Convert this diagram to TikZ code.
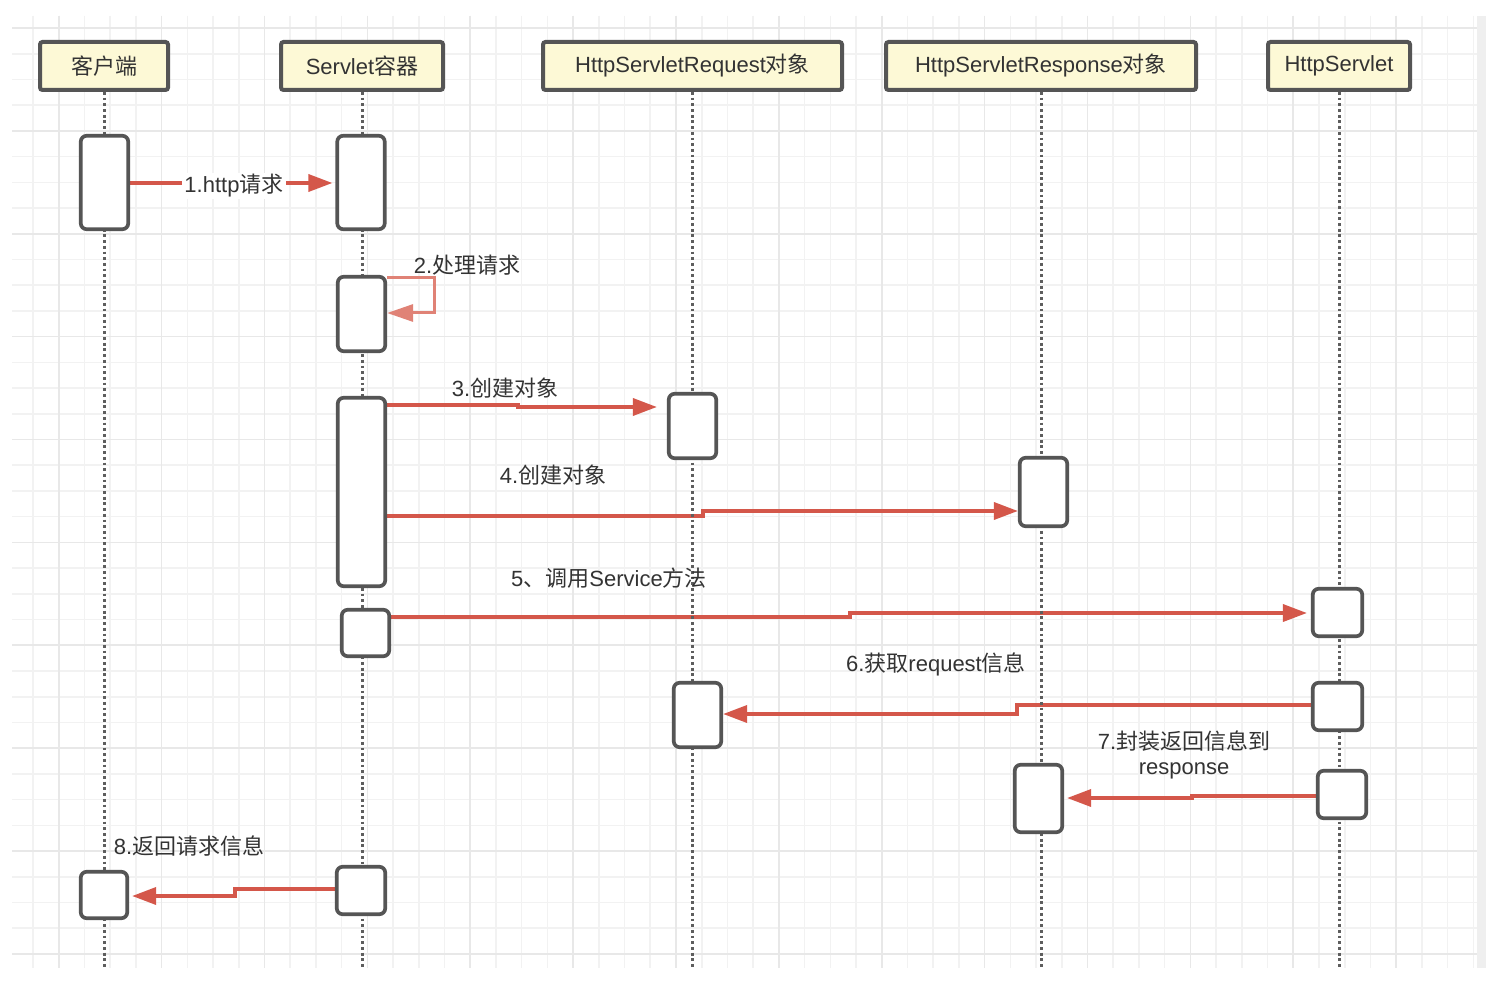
\documentclass[tikz,border=0pt]{standalone}
\usepackage{fontspec}
\setmainfont{Liberation Sans}
\newfontfamily\cjk{Noto Sans CJK SC}
\usetikzlibrary{arrows.meta}
\definecolor{gridminor}{HTML}{F2F2F2}
\definecolor{gridmajor}{HTML}{E8E8E8}
\definecolor{bandcol}{HTML}{EFEFEF}
\definecolor{boxline}{HTML}{555555}
\definecolor{headfill}{HTML}{FDF9D6}
\definecolor{msgred}{HTML}{D4574A}
\definecolor{loopred}{HTML}{E08276}
\definecolor{txt}{HTML}{333333}
\definecolor{dotcol}{HTML}{5E5E5E}
\pgfdeclarelayer{gridlayer}
\pgfdeclarelayer{arrowlayer}
\pgfdeclarelayer{lifelayer}
\pgfsetlayers{gridlayer,arrowlayer,lifelayer,main}
\tikzset{
  head/.style={draw=boxline, line width=4pt, fill=headfill, rounded corners=2.5pt,
    minimum height=48pt, inner sep=0pt, text=txt},
  act/.style={draw=boxline, line width=3.7pt, fill=white, rounded corners=6pt,
    minimum width=47.5pt, inner sep=0pt},
  life/.style={draw=dotcol, line width=3pt, dash pattern=on 2.8pt off 2.9pt},
  msg/.style={draw=msgred, line width=3.5pt, -{Triangle[length=24pt,width=17pt]}},
  loopmsg/.style={draw=loopred, line width=3pt, -{Triangle[length=26pt,width=17pt]}},
  lbl/.style={inner sep=1pt, text=txt},
  minorline/.style={draw=gridminor, line width=1.6pt},
  majorline/.style={draw=gridmajor, line width=1.6pt}
}
\begin{document}
\begin{tikzpicture}[x=1pt,y=-1pt, font=\fontsize{22}{25}\selectfont]
\useasboundingbox (0,0) rectangle (1502,1000);

% grid background
\begin{pgfonlayer}{gridlayer}
\fill[white] (0,0) rectangle (1502,1000);
\fill[bandcol] (1477,16) rectangle (1486,968);
\foreach \k in {0,...,56}{
  \pgfmathsetmacro\xx{33+25.72*\k}
  \draw[minorline] (\xx,16) -- (\xx,968);
}
\foreach \k in {0,...,36}{
  \pgfmathsetmacro\yy{28+25.72*\k}
  \draw[minorline] (12,\yy) -- (1477,\yy);
}
\foreach \k in {1,5,...,53}{
  \pgfmathsetmacro\xx{33+25.72*\k}
  \draw[majorline] (\xx,16) -- (\xx,968);
}
\foreach \k in {0,4,...,36}{
  \pgfmathsetmacro\yy{28+25.72*\k}
  \draw[majorline] (12,\yy) -- (1477,\yy);
}
\end{pgfonlayer}

% headers
\node[head, minimum width=128pt] (hC) at (104,66) {{\cjk 客户端}};
\node[head, minimum width=162pt] (hS) at (362,66) {Servlet{\cjk 容器}};
\node[head, minimum width=299pt] (hQ) at (692.5,66) {HttpServletRequest{\cjk 对象}};
\node[head, minimum width=310pt] (hP) at (1041,66) {HttpServletResponse{\cjk 对象}};
\node[head, minimum width=142pt] (hH) at (1339,66) {HttpServlet};

% lifelines
\begin{pgfonlayer}{lifelayer}
\draw[life] (hC.south) -- (hC.south |- 0,968);
\draw[life] (hS.south) -- (hS.south |- 0,968);
\draw[life] (hQ.south) -- (hQ.south |- 0,968);
\draw[life] (hP.south) -- (hP.south |- 0,968);
\draw[life] (hH.south) -- (hH.south |- 0,968);
\end{pgfonlayer}

% activation boxes
\node[act, minimum height=93.5pt] (A1) at (104.5,182.5) {};
\node[act, minimum height=93.5pt] (S1) at (361,182.5) {};
\node[act, minimum height=74.5pt] (S2) at (361.5,314) {};
\node[act, minimum height=188.5pt] (S3) at (361.5,492) {};
\node[act, minimum height=64.5pt] (R1) at (692.5,426) {};
\node[act, minimum height=68.5pt] (P1) at (1043.5,492) {};
\node[act, minimum height=46.5pt] (S4) at (365.5,633) {};
\node[act, minimum height=47.5pt, minimum width=49.5pt] (H1) at (1337.5,612.5) {};
\node[act, minimum height=47.5pt, minimum width=49.5pt] (H2) at (1337.5,706.5) {};
\node[act, minimum height=64.5pt] (R2) at (697.5,715) {};
\node[act, minimum height=47.5pt, minimum width=48.5pt] (H3) at (1342,794.5) {};
\node[act, minimum height=67.5pt] (P2) at (1038.5,798.5) {};
\node[act, minimum height=46.5pt, minimum width=46.5pt] (C2) at (104,895) {};
\node[act, minimum height=47.5pt, minimum width=48.5pt] (S5) at (361,890.5) {};

% messages
\begin{pgfonlayer}{arrowlayer}
\draw[msg, shorten >=3pt] (A1.east |- 0,183) -- (S1.west |- 0,183);
\draw[loopmsg] (S2.east |- 0,278) -- (434,278) -- (434,313) -- (S2.east |- 0,313);
\draw[msg, shorten >=10pt] (S3.east |- 0,405) -- (518,405) -- (518,407) -- (R1.west |- 0,407);
\draw[msg] (S3.east |- 0,516) -- (703,516) -- (703,511) -- (P1.west |- 0,511);
\draw[msg, shorten >=4pt] (S4.east |- 0,617) -- (850,617) -- (850,613) -- (H1.west |- 0,613);
\draw[msg] (H2.west |- 0,705) -- (1017,705) -- (1017,714) -- (R2.east |- 0,714);
\draw[msg, shorten >=3pt] (H3.west |- 0,796) -- (1192,796) -- (1192,798) -- (P2.east |- 0,798);
\draw[msg, shorten >=3pt] (S5.west |- 0,889) -- (235,889) -- (235,896) -- (C2.east |- 0,896);
\end{pgfonlayer}

% labels
\node[lbl, fill=white, inner xsep=2pt] (L1) at (234,186) {1.http{\cjk 请求}};
\node[lbl] (L2) at (467,265) {2.{\cjk 处理请求}};
\node[lbl] (L3) at (505,388) {3.{\cjk 创建对象}};
\node[lbl] (L4) at (553,475) {4.{\cjk 创建对象}};
\node[lbl] (L5) at (609,578) {5{\cjk 、调用}Service{\cjk 方法}};
\node[lbl] (L6) at (936,664) {6.{\cjk 获取}request{\cjk 信息}};
\node[lbl, align=center] (L7) at (1184,755) {7.{\cjk 封装返回信息到}\\response};
\node[lbl] (L8) at (189,846) {8.{\cjk 返回请求信息}};
\end{tikzpicture}
\end{document}
